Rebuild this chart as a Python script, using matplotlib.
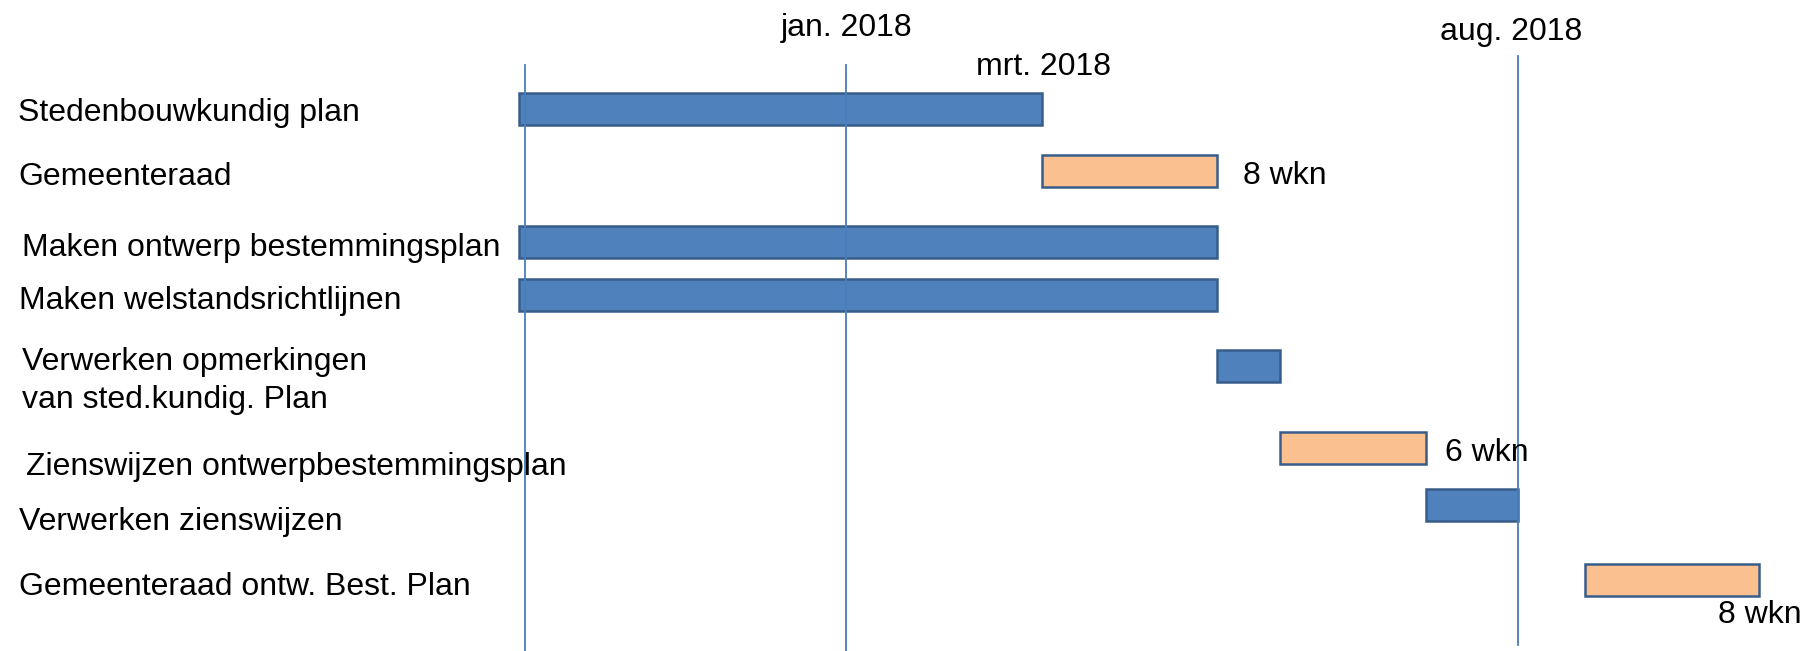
import matplotlib
matplotlib.use("Agg")
import matplotlib.pyplot as plt
import matplotlib.dates as mdates
import pandas as pd

W, H = 1819, 651
DPI = 100

# ---- data ----
tasks = ["Stedenbouwkundig plan", "Gemeenteraad", "Maken ontwerp bestemmingsplan",
         "Maken welstandsrichtlijnen", "Verwerken opmerkingen\nvan sted.kundig. Plan",
         "Zienswijzen ontwerpbestemmingsplan", "Verwerken zienswijzen",
         "Gemeenteraad ontw. Best. Plan"]
starts = ["2017-09-20", "2018-03-04", "2017-09-20", "2017-09-20",
          "2018-04-28", "2018-05-18", "2018-07-03", "2018-08-22"]
ends = ["2018-03-04", "2018-04-28", "2018-04-28", "2018-04-28",
        "2018-05-18", "2018-07-03", "2018-08-01", "2018-10-16"]
kinds = ["work", "council", "work", "work", "work", "council", "work", "council"]
durations = ["", "8 wkn", "", "", "", "6 wkn", "", "8 wkn"]

milestones = ["2017-09-22", "2018-01-01", "2018-08-01"]
month_labels = ["jan. 2018", "mrt. 2018", "aug. 2018"]

# ---- layout (pixels) ----
TY = 3.0  # vertical text offset
bar_y = [109.2, 170.8, 241.8, 295.3, 365.8, 448.0, 504.8, 580.0]
bar_h = 31.7
label_pos = [(18.3, 118), (18.6, 181.7), (22, 253), (18.6, 306), (21.7, 366.7),
             (25.5, 471.7), (19, 527), (18.6, 591.7)]
dur_pos = {1: (1243, 181), 5: (1445, 458.3), 7: (1718, 620)}
month_pos = [(780.6, 33.3), (976, 71.7), (1440, 36.7)]
line_span = [(65, 651), (65, 651), (56, 645)]

colors = {"work": "#4F81BD", "council": "#FAC090"}
edge = "#385D8A"
line_col = "#4A7EBB"
FS = 23.0

plt.rcParams['font.family'] = ['Liberation Sans', 'DejaVu Sans']

fig = plt.figure(figsize=(W / DPI, H / DPI), dpi=DPI)
ax = fig.add_axes([0, 0, 1, 1])
ax.set_axis_off()

ref = mdates.date2num(pd.Timestamp("2018-01-01"))
px_per_day = 3.171
x_ref_px = 845.7
ax.set_xlim(ref - x_ref_px / px_per_day, ref + (W - x_ref_px) / px_per_day)
ax.set_ylim(H, 0)

s_num = [mdates.date2num(pd.Timestamp(s)) for s in starts]
e_num = [mdates.date2num(pd.Timestamp(e)) for e in ends]

# milestone lines
for d, (y0, y1) in zip(milestones, line_span):
    xd = mdates.date2num(pd.Timestamp(d))
    ax.plot([xd, xd], [y0, y1], color=line_col, lw=1.3, zorder=3)

# bars
for i in range(len(tasks)):
    ax.barh(bar_y[i], e_num[i] - s_num[i], left=s_num[i], height=bar_h,
            color=colors[kinds[i]], edgecolor=edge, linewidth=1.8, zorder=2)

def ftext(x, y, s, **kw):
    fig.text(x / W, 1 - (y + TY) / H, s, fontsize=FS, va='baseline', ha='left', **kw)

for i, t in enumerate(tasks):
    x, y = label_pos[i]
    lines = t.split("\n")
    for j, ln in enumerate(lines):
        ftext(x, y + j * 38.3, ln, zorder=1)

for i, (x, y) in dur_pos.items():
    ftext(x, y, durations[i])

for lab, (x, y) in zip(month_labels, month_pos):
    ftext(x, y, lab)

fig.savefig("out.png", dpi=DPI, facecolor="white")
